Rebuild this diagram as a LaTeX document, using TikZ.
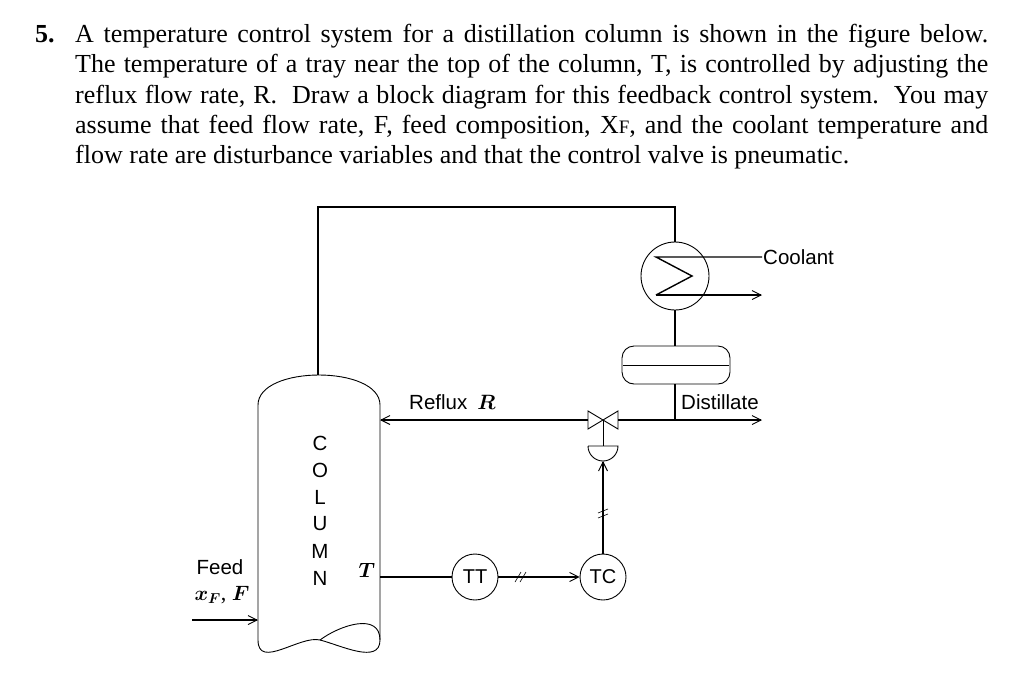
\documentclass[tikz,border=0pt]{standalone}
\usepackage{fontspec}
\setmainfont{Liberation Serif}
\newfontfamily\lsans{Liberation Sans}
\usetikzlibrary{arrows.meta}
\tikzset{
  pipe/.style={line width=1.4pt},
  sig/.style={line width=1.2pt},
  flow/.style={-{Straight Barb[length=9pt,width=9pt,line width=0.9pt]}},
  inst/.style={circle,draw,line width=0.9pt,minimum size=46pt,inner sep=0pt,font=\lsans\fontsize{20}{20}\selectfont},
  lbl/.style={font=\lsans\fontsize{20.5}{20}\selectfont,inner sep=1pt},
  txt/.style={anchor=base west,inner sep=0pt,font=\fontsize{26}{28}\selectfont},
  var/.style={font=\fontsize{22}{22}\selectfont\mathversion{bold}}
}
\begin{document}
\begin{tikzpicture}[x=1pt,y=-1pt]
\useasboundingbox (0,0) rectangle (1024,683);
% problem text
\node[txt] at (35,42) {\textbf{5.}};
\node[txt] (l1) at (75,42) {\makebox[913pt][s]{A temperature control system for a distillation column is shown in the figure below.}};
\node[txt] (l2) at (75,72) {\makebox[913pt][s]{The temperature of a tray near the top of the column, T, is controlled by adjusting the}};
\node[txt] (l3) at (75,103) {\makebox[913pt][s]{reflux flow rate, R.\ \ Draw a block diagram for this feedback control system.\ \ You may}};
\node[txt] (l4) at (75,133) {\makebox[913pt][s]{assume that feed flow rate, F, feed composition, X{\fontsize{19}{19}\selectfont F}, and the coolant temperature and}};
\node[txt] (l5) at (75,163) {flow rate are disturbance variables and that the control valve is pneumatic.};
% column
\draw[line width=0.9pt] (258,640) -- (258,405) .. controls (258,365) and (380,365) .. (380,405) -- (380,640)
  .. controls (380,665) and (340,645) .. (320,640) .. controls (300,635) and (258,670) .. (258,640);
\draw[line width=0.9pt] (380,640) .. controls (380,612) and (340,625) .. (320,640);
\foreach \c [count=\i] in {C,O,L,U,M,N}
  \node[lbl] at (320,416+27*\i) {\c};
\coordinate (ctop) at (318,375);
\coordinate (cref) at (380,420);
\coordinate (ctt) at (380,577);
\coordinate (cfeed) at (258,620);
\node[var] at (367,570) {$T$};
% overhead vapour and condenser
\node[circle,draw,line width=0.9pt,minimum width=62pt,minimum height=68pt,inner sep=0pt] (cond) at (675,276) {};
\draw[pipe] (ctop) |- (675,207) -- (cond.north);
\coordinate (cin) at (762,257);
\coordinate (cout) at (762,295);
\draw[pipe] (cin) -- (656,257) -- (692,276) -- (656,295);
\draw[pipe,flow] (656,295) -- (cout);
\node[lbl,anchor=west] at (cin) {Coolant};
% accumulator drum
\draw[line width=0.9pt,rounded corners=12pt] (622,346) rectangle (730,384);
\draw[line width=0.9pt] (623,365) -- (729,365);
\draw[pipe] (cond.south) -- (675,346);
\coordinate (dj) at (675,420);
\draw[pipe] (675,384) -- (dj);
\coordinate (dout) at (762,420);
\draw[pipe,flow] (dj) -- (dout);
\node[lbl,anchor=south west] at (680,411) {Distillate};
% control valve
\coordinate (valve) at (603,420);
\draw[line width=0.9pt] (588,411) -- (618,429) -- (618,411) -- (588,429) -- cycle;
\draw[pipe] (dj) -- (618,420);
\draw[pipe,flow] (588,420) -- (cref);
\node[lbl,anchor=south west] at (408,411) {Reflux\hspace{10pt}{\fontsize{22}{22}\selectfont\mathversion{bold}$R$}};
\draw[line width=0.9pt] (valve) -- (603,446);
\draw[line width=0.9pt] (588,446) -- (618,446) arc[start angle=0,end angle=-180,radius=15pt];
\coordinate (act) at (603,461);
% instruments
\node[inst] (TT) at (475,577) {TT};
\node[inst] (TC) at (603,577) {TC};
\draw[pipe] (ctt) -- (TT);
\draw[sig,flow] (TT) -- (TC);
\draw[line width=0.6pt] (515,582) -- (521,572) (520,582) -- (526,572);
\draw[sig,flow] (TC) -- (act);
\draw[line width=0.6pt] (598,513) -- (608,509) (598,518) -- (608,514);
% feed
\node[lbl] at (220,567) {Feed};
\node[var] at (222,595) {$x_F$, $F$};
\coordinate (fin) at (192,620);
\draw[pipe,flow] (fin) -- (cfeed);
\end{tikzpicture}
\end{document}
